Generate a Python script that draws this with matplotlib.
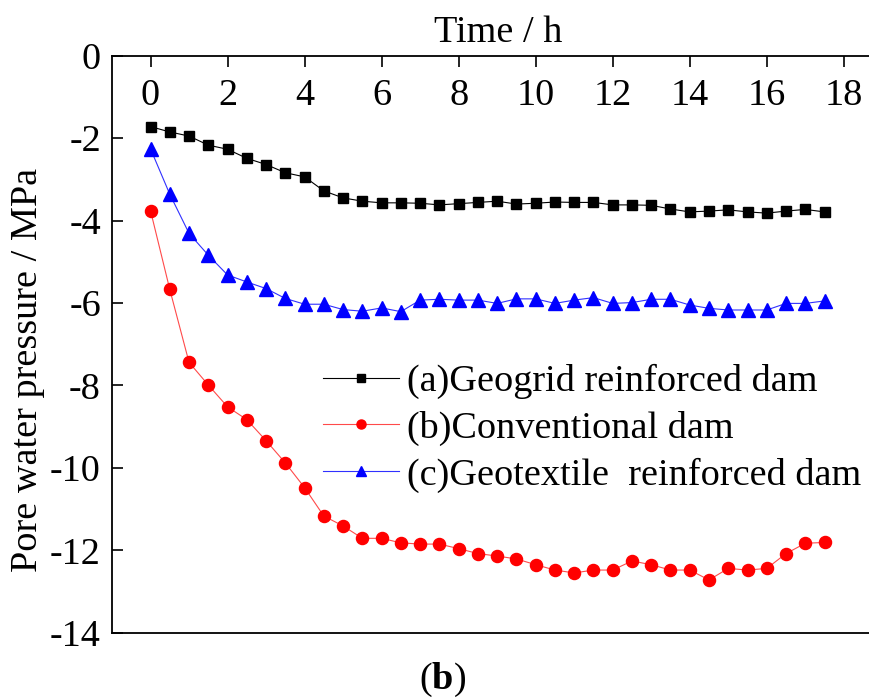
import matplotlib
matplotlib.use("Agg")
import matplotlib.pyplot as plt

# Datos (tiempo en horas, presion en MPa)
tiempo = [0, 0.5, 1, 1.5, 2, 2.5, 3, 3.5, 4, 4.5, 5, 5.5, 6, 6.5, 7, 7.5, 8, 8.5,
          9, 9.5, 10, 10.5, 11, 11.5, 12, 12.5, 13, 13.5, 14, 14.5, 15, 15.5, 16, 16.5, 17, 17.5]

geomalla = [-1.72, -1.85, -1.95, -2.17, -2.27, -2.49, -2.64, -2.84, -2.94, -3.28, -3.45, -3.53,
            -3.57, -3.57, -3.58, -3.62, -3.59, -3.56, -3.53, -3.60, -3.58, -3.55, -3.56, -3.56,
            -3.62, -3.62, -3.63, -3.72, -3.79, -3.77, -3.74, -3.79, -3.82, -3.77, -3.73, -3.79]

convencional = [-3.76, -5.67, -7.44, -7.99, -8.52, -8.83, -9.34, -9.88, -10.48, -11.17, -11.41, -11.71,
                -11.71, -11.82, -11.85, -11.85, -11.96, -12.08, -12.14, -12.21, -12.35, -12.48, -12.55, -12.48,
                -12.48, -12.26, -12.35, -12.48, -12.48, -12.72, -12.44, -12.48, -12.44, -12.08, -11.83, -11.81]

geotextil = [-2.26, -3.36, -4.31, -4.84, -5.32, -5.49, -5.65, -5.89, -6.03, -6.03, -6.16, -6.20,
             -6.12, -6.21, -5.93, -5.91, -5.93, -5.93, -6.01, -5.90, -5.90, -6.01, -5.93, -5.87,
             -6.01, -5.99, -5.91, -5.91, -6.05, -6.13, -6.17, -6.17, -6.17, -6.01, -6.01, -5.95]

etiquetas = ["(a)Geogrid reinforced dam", "(b)Conventional dam", "(c)Geotextile  reinforced dam"]

plt.rcParams["font.family"] = ["Liberation Serif", "DejaVu Serif"]
plt.rcParams["axes.unicode_minus"] = False
plt.rcParams["mathtext.fontset"] = "custom"
plt.rcParams["mathtext.rm"] = "Liberation Serif"
plt.rcParams["mathtext.bf"] = "Liberation Serif:bold"

fs = 27.5

fig = plt.figure(figsize=(8.7, 7), dpi=100)
ax = fig.add_axes([112 / 870, 67.3 / 700, 1 - 112 / 870, (632.7 - 55.7) / 700])

ax.plot(tiempo, geomalla, color="black", lw=0.8, marker="s", ms=7.5, label=etiquetas[0])
ax.plot(tiempo, convencional, color="#ff4a4a", lw=0.8, marker="o", ms=8.7,
        markerfacecolor="red", markeredgecolor="red", label=etiquetas[1])
ax.plot(tiempo, geotextil, color="#3030ff", lw=0.8, marker="^", ms=9.5,
        markerfacecolor="blue", markeredgecolor="blue", label=etiquetas[2])

ax.set_xlim(-1, 18.68)
ax.set_ylim(-14, 0)
ax.set_xticks(range(0, 19, 2))
ax.set_yticks(range(-14, 1, 2))

ax.spines["right"].set_visible(False)
for s in ["left", "top", "bottom"]:
    ax.spines[s].set_linewidth(1.3)

ax.xaxis.tick_top()
ax.xaxis.set_label_position("top")
ax.tick_params(axis="x", direction="in", length=8, width=1.2, labelsize=fs, pad=-41.5)
ax.tick_params(axis="y", direction="in", length=8, width=1.2, labelsize=fs, pad=8)

ax.set_xlabel("Time / h", fontsize=fs)
ax.xaxis.set_label_coords(0.51, 1.023)
ax.set_ylabel("Pore water pressure / MPa", fontsize=fs)
ax.yaxis.set_label_coords(-0.088, 0.456)

ax.legend(loc="upper left", bbox_to_anchor=(323 / 870, (700 - 364) / 700),
          bbox_transform=fig.transFigure, frameon=False, fontsize=fs,
          handlelength=2.0, handletextpad=0.2, borderpad=0, borderaxespad=0,
          labelspacing=0.3, markerscale=0.75)

# etiqueta del panel, pegada al borde inferior
fig.text(443 / 870, 1 / 700, r"($\mathbf{b}$)", fontsize=fs, ha="center", va="bottom")

fig.savefig("out.png", dpi=100)
